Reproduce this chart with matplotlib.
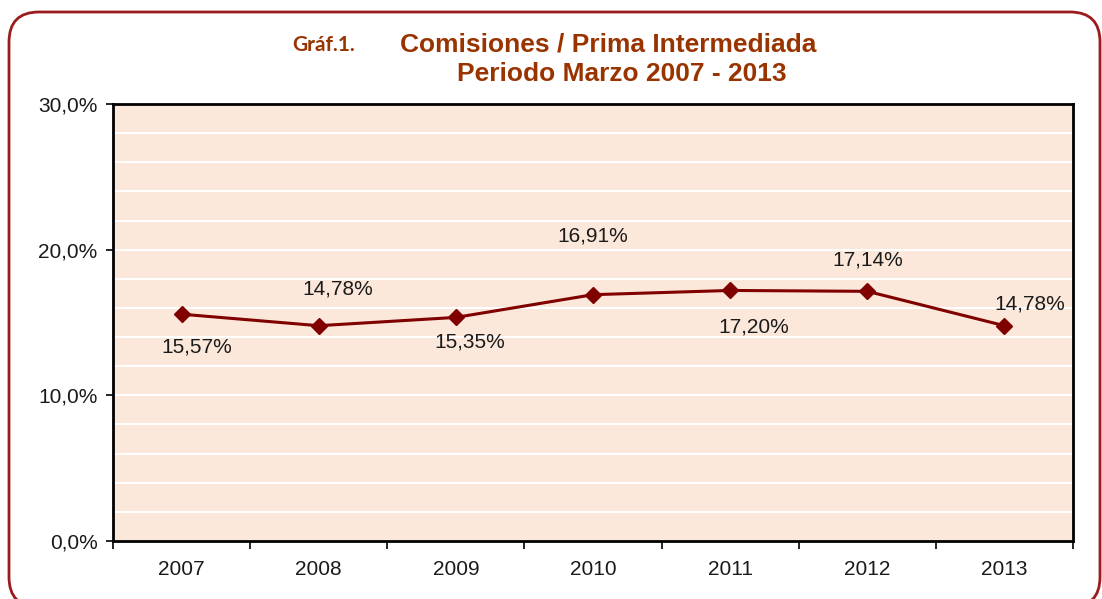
import matplotlib.pyplot as plt
from matplotlib.patches import FancyBboxPatch
from matplotlib.ticker import FuncFormatter, MultipleLocator

plt.rcParams['font.family'] = ['Liberation Sans', 'DejaVu Sans']

years = ['2007', '2008', '2009', '2010', '2011', '2012', '2013']
ratio = [15.57, 14.78, 15.35, 16.91, 17.20, 17.14, 14.78]
labels = ['15,57%', '14,78%', '15,35%', '16,91%', '17,20%', '17,14%', '14,78%']

# label offsets in pixels (dx, dy)
offsets = [(15, -33), (19, 37), (14, -25), (0, 59), (24, -37), (0, 31), (25, 22)]

title_color = '#993300'
line_color = '#800000'

fig = plt.figure(figsize=(11.02, 5.99), dpi=100)
fig.patch.set_facecolor('white')

# rounded frame around the chart (inches), bottom edge runs off the image
frame = FancyBboxPatch((0.09, -0.08), 10.91, 5.95,
                       boxstyle='round,pad=0,rounding_size=0.3',
                       transform=fig.dpi_scale_trans, facecolor='none',
                       edgecolor='#9b1c1c', linewidth=2)
fig.patches.append(frame)

ax = fig.add_axes([113 / 1102, 1 - 541 / 599, 960 / 1102, 437 / 599])
ax.set_facecolor('#fce8da')

x = list(range(len(years)))
ax.plot(x, ratio, color=line_color, linewidth=2.2, marker='D', markersize=8,
        markerfacecolor=line_color, markeredgecolor=line_color, zorder=3)

for xi, v, lab, (dx, dy) in zip(x, ratio, labels, offsets):
    ax.annotate(lab, (xi, v), xytext=(dx * 0.72, dy * 0.72), textcoords='offset points',
                ha='center', va='center', fontsize=15, color='#1a1a1a')

ax.set_xlim(-0.5, len(years) - 0.5)
ax.set_ylim(0, 30)

# white gridlines every 2%
ax.yaxis.set_minor_locator(MultipleLocator(2))
ax.yaxis.set_major_locator(MultipleLocator(10))
ax.grid(True, which='both', axis='y', color='white', linewidth=1.5)
ax.set_axisbelow(True)
ax.tick_params(axis='y', which='minor', length=0)
ax.yaxis.set_major_formatter(FuncFormatter(lambda v, p: f'{v:.1f}%'.replace('.', ',')))
ax.tick_params(axis='y', which='major', length=5, width=1.2, labelsize=15,
               labelcolor='#1a1a1a', pad=6)

ax.set_xticks(x)
ax.set_xticklabels(years)
ax.set_xticks([i - 0.5 for i in range(len(years) + 1)], minor=True)
ax.tick_params(axis='x', which='major', length=0, labelsize=15, labelcolor='#1a1a1a', pad=14)
ax.tick_params(axis='x', which='minor', length=6, width=1.2)

for s in ax.spines.values():
    s.set_color('black')
    s.set_linewidth(2)

fig.text(324 / 1102, 1 - 45 / 599, 'Gráf.1.', fontsize=15, fontweight='bold',
         color=title_color, family=['Lato', 'DejaVu Sans'], ha='center', va='center')
fig.text(608 / 1102, 1 - 45 / 599, 'Comisiones / Prima Intermediada', fontsize=19,
         fontweight='bold', color=title_color, ha='center', va='center')
fig.text(622 / 1102, 1 - 74 / 599, 'Periodo Marzo 2007 - 2013', fontsize=19,
         fontweight='bold', color=title_color, ha='center', va='center')

fig.savefig('out.png', dpi=100)
